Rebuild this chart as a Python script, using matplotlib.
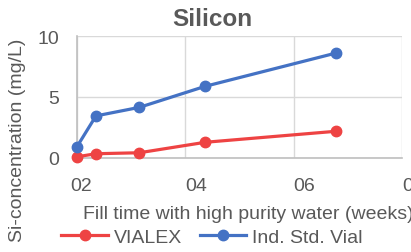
import matplotlib
matplotlib.use("Agg")
import matplotlib.pyplot as plt
import matplotlib.transforms as mtransforms

plt.rcParams["font.family"] = ["Liberation Sans", "DejaVu Sans"]

# fill time (weeks) and Si concentration (mg/L)
weeks = [0.0, 0.35, 1.15, 2.37, 4.78]
vialex = [0.1, 0.35, 0.43, 1.29, 2.19]
ind_std_vial = [0.93, 3.45, 4.15, 5.88, 8.6]

x_ticks = [0, 2, 4, 6]
x_tick_labels = ["02", "04", "06", "08"]
y_ticks = [0, 5, 10]

RED = "#EE4343"
BLUE = "#4472C4"
GREY_TEXT = "#595959"

fig = plt.figure(figsize=(4.11, 2.53), dpi=100)
ax = fig.add_axes([77 / 411, 94 / 253, 325 / 411, 122 / 253])

ax.plot(weeks, vialex, color=RED, lw=2.3, marker="o", ms=7.5, label="VIALEX",
        zorder=3, clip_on=False)
ax.plot(weeks, ind_std_vial, color=BLUE, lw=2.3, marker="o", ms=7.5,
        label="Ind. Std. Vial", zorder=3, clip_on=False)

ax.set_xlim(0, 6)
ax.set_ylim(0, 10)
ax.set_xticks(x_ticks)
ax.set_xticklabels(x_tick_labels)
ax.set_yticks(y_ticks)
ax.grid(True, color="#D9D9D9", lw=1)
ax.set_axisbelow(True)
for s in ["top", "right"]:
    ax.spines[s].set_visible(False)
for s in ["left", "bottom"]:
    ax.spines[s].set_color("#BFBFBF")
    ax.spines[s].set_linewidth(1.2)

ax.tick_params(axis="y", length=0, pad=13, labelsize=14, labelcolor=GREY_TEXT)
ax.tick_params(axis="x", length=0, pad=14, labelsize=14, labelcolor=GREY_TEXT)
for i, lbl in enumerate(ax.get_xticklabels()):
    if i == 0:
        lbl.set_ha("center")
        lbl.set_transform(lbl.get_transform() + mtransforms.ScaledTranslation(0.04, 0, fig.dpi_scale_trans))
    else:
        lbl.set_ha("left")

fig.text(212 / 411, 1 - 20 / 253, "Silicon", ha="center", va="center",
         fontsize=17.5, fontweight="bold", color=GREY_TEXT)
fig.text(18 / 411, 1 - 140 / 253, "Si-concentration (mg/L)", rotation=90,
         ha="center", va="center", fontsize=14, color=GREY_TEXT)
fig.text(83 / 411, 1 - 215 / 253, "Fill time with high purity water (weeks)",
         ha="left", va="center", fontsize=14, color=GREY_TEXT)

leg = fig.legend(loc="center", bbox_to_anchor=(212 / 411, 1 - 238 / 253), ncol=2,
                 frameon=False, fontsize=14, handlelength=2.4, columnspacing=0.9,
                 handletextpad=0.3, borderaxespad=0)
for t in leg.get_texts():
    t.set_color(GREY_TEXT)

fig.savefig("out.png", dpi=100)
